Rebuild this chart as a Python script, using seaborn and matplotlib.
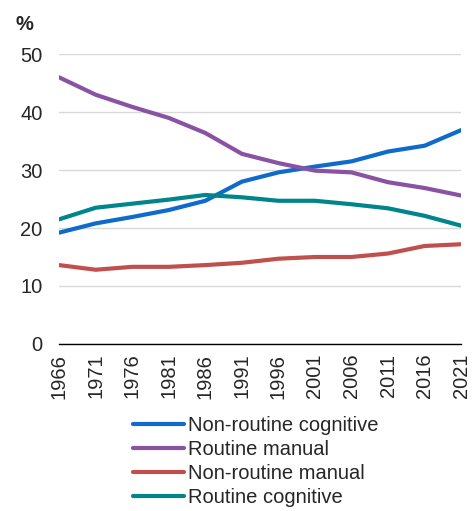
import pandas as pd
import matplotlib
matplotlib.use('Agg')
import matplotlib.pyplot as plt
import seaborn as sns

# 数据
years = [1966, 1971, 1976, 1981, 1986, 1991, 1996, 2001, 2006, 2011, 2016, 2021]
non_routine_cognitive = [19.2, 20.8, 21.9, 23.1, 24.7, 28.0, 29.6, 30.6, 31.5, 33.2, 34.2, 36.9]
routine_manual = [46.0, 43.0, 40.9, 39.0, 36.4, 32.8, 31.2, 29.9, 29.6, 27.9, 26.9, 25.6]
non_routine_manual = [13.6, 12.8, 13.3, 13.3, 13.6, 14.0, 14.7, 15.0, 15.0, 15.6, 16.9, 17.2]
routine_cognitive = [21.5, 23.5, 24.2, 24.9, 25.7, 25.3, 24.7, 24.7, 24.1, 23.4, 22.1, 20.4]

series_names = ['Non-routine cognitive', 'Routine manual', 'Non-routine manual', 'Routine cognitive']
series_values = [non_routine_cognitive, routine_manual, non_routine_manual, routine_cognitive]
colors = ['#0F6BCB', '#8A52A3', '#C0504D', '#00868A']

rows = []
for name, vals in zip(series_names, series_values):
    for y, v in zip(years, vals):
        rows.append({'year': y, 'share': v, 'group': name})
df = pd.DataFrame(rows)

sns.set_theme(style='white')
plt.rcParams['font.family'] = ['Liberation Sans', 'DejaVu Sans']
fs = 14.5

fig = plt.figure(figsize=(4.73, 5.11), dpi=100)
ax = fig.add_axes([0.125, 0.327, 0.85, 0.567])

sns.lineplot(data=df, x='year', y='share', hue='group', hue_order=series_names,
             palette=colors, linewidth=3, ax=ax, legend=True)

ax.set_xlim(1966, 2021)
ax.set_ylim(0, 50)
ax.set_xticks(years)
ax.set_xticklabels([str(y) for y in years], rotation=90, fontsize=fs)
ax.set_yticks([0, 10, 20, 30, 40, 50])
ax.set_yticklabels(['0', '10', '20', '30', '40', '50'], fontsize=fs)
ax.set_xlabel('')
ax.set_ylabel('')
ax.yaxis.grid(True, color='#D9D9D9', linewidth=1)
ax.set_axisbelow(True)
for s in ['left', 'right', 'top']:
    ax.spines[s].set_visible(False)
ax.spines['bottom'].set_color('black')
ax.spines['bottom'].set_linewidth(1)
ax.tick_params(axis='x', direction='out', length=5, width=1, color='black', pad=2)
ax.tick_params(axis='y', length=0, pad=12)

fig.text(0.032, 0.952, '%', fontsize=fs, fontweight='bold', ha='left', va='center')

handles, labels = ax.get_legend_handles_labels()
ax.get_legend().remove()
fig.legend(handles, labels, loc='upper center', bbox_to_anchor=(0.54, 0.205),
           frameon=False, fontsize=fs, handlelength=2.53, handletextpad=0.2,
           labelspacing=0.25, borderpad=0)

fig.savefig('out.png', dpi=100)
